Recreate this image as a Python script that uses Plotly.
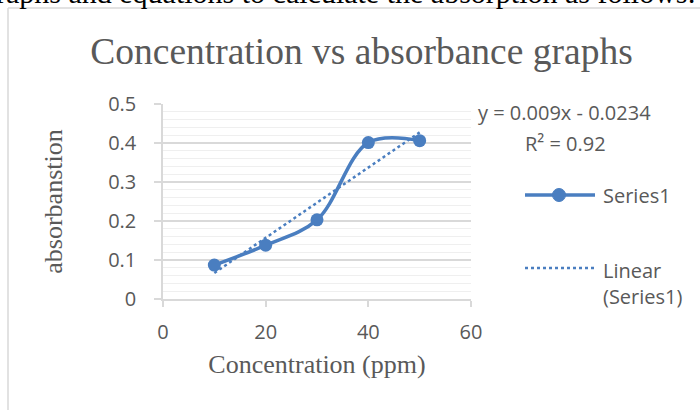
import numpy as np
import plotly.graph_objects as go

# ---- data ----
concentration = [10, 20, 30, 40, 50]
absorbance = [0.087, 0.138, 0.203, 0.401, 0.406]
x_ticks = [0, 20, 40, 60]
y_ticks = [0, 0.1, 0.2, 0.3, 0.4, 0.5]
series_name = "Series1"
trend_name = "Linear<br>(Series1)"
trend_equation = "y = 0.009x - 0.0234"
trend_r2 = "R² = 0.92"
chart_title = "Concentration vs absorbance graphs"
x_title = "Concentration (ppm)"
y_title = "absorbanstion"
page_text = "graphs and equations to calculate the absorption as follows:"

# linear trendline fitted to the series
slope, intercept = np.polyfit(concentration, absorbance, 1)
trend_x = [min(concentration), max(concentration)]
trend_y = [slope * v + intercept for v in trend_x]

# ---- layout geometry ----
W, H = 700, 410
L, R, T, B = 163, 471, 104, 299


def px(x):
    return (x - L) / (R - L)


def py(y):
    return (B - y) / (B - T)


BLUE = "#4A7EC0"
GREY_TXT = "#595959"
SANS = "Open Sans"
SERIF = "Liberation Serif"

fig = go.Figure()
fig.add_trace(go.Scatter(
    x=concentration, y=absorbance, name=series_name, mode="lines+markers",
    line=dict(color=BLUE, width=3.5, shape="spline", smoothing=1.0),
    marker=dict(color=BLUE, size=13), showlegend=False,
))
fig.add_trace(go.Scatter(
    x=trend_x, y=trend_y, name="Linear (Series1)", mode="lines",
    line=dict(color=BLUE, width=2.5, dash="dot"), showlegend=False,
))

shapes = [
    # chart frame (left and top edges)
    dict(type="line", xref="paper", yref="paper", x0=px(8), x1=px(8), y0=py(8), y1=py(420),
         line=dict(color="#d9d9d9", width=1.5)),
    dict(type="line", xref="paper", yref="paper", x0=px(8), x1=px(710), y0=py(8), y1=py(8),
         line=dict(color="#d9d9d9", width=1.5)),
    # legend symbols
    dict(type="line", xref="paper", yref="paper", x0=px(525), x1=px(595), y0=py(195), y1=py(195),
         line=dict(color=BLUE, width=3.5)),
    dict(type="circle", xref="paper", yref="paper", x0=px(552.5), x1=px(565.5), y0=py(188.5), y1=py(201.5),
         fillcolor=BLUE, line=dict(color=BLUE, width=1)),
    dict(type="line", xref="paper", yref="paper", x0=px(525), x1=px(595), y0=py(268), y1=py(268),
         line=dict(color=BLUE, width=2.5, dash="dot")),
]

annotations = [
    dict(text=page_text, xref="paper", yref="paper", x=px(698), y=py(-8), xanchor="right", yanchor="middle",
         showarrow=False, font=dict(family=SERIF, size=30, color="#000000")),
    dict(text=trend_equation, xref="paper", yref="paper", x=px(564), y=py(113), xanchor="center", yanchor="middle",
         showarrow=False, font=dict(family=SANS, size=20, color=GREY_TXT)),
    dict(text=trend_r2, xref="paper", yref="paper", x=px(565), y=py(143), xanchor="center", yanchor="middle",
         showarrow=False, font=dict(family=SANS, size=20, color=GREY_TXT)),
    dict(text=series_name, xref="paper", yref="paper", x=px(601), y=py(195), xanchor="left", yanchor="middle",
         showarrow=False, font=dict(family=SANS, size=20, color=GREY_TXT)),
    dict(text=trend_name, xref="paper", yref="paper", x=px(601), y=py(283), xanchor="left", yanchor="middle",
         align="left", showarrow=False, font=dict(family=SANS, size=20, color=GREY_TXT)),
]

fig.update_layout(
    width=W, height=H, autosize=False,
    margin=dict(l=L, r=W - R, t=T, b=H - B, pad=0),
    paper_bgcolor="white", plot_bgcolor="white",
    title=dict(text=chart_title, x=361.5 / W, xref="container", xanchor="center",
               y=1 - 51 / H, yref="container", yanchor="middle",
               font=dict(family=SERIF, size=37.5, color=GREY_TXT)),
    xaxis=dict(range=[0, 60], tickvals=x_ticks, showgrid=False, zeroline=False,
               showline=True, linecolor="#d9d9d9", linewidth=1.5,
               ticks="outside", ticklen=6, tickcolor="#d9d9d9", tickwidth=1.5,
               ticklabelstandoff=8,
               tickfont=dict(family=SANS, size=20, color=GREY_TXT),
               title=dict(text=x_title, standoff=11, font=dict(family=SERIF, size=26, color=GREY_TXT))),
    yaxis=dict(range=[0, 0.5], tickvals=y_ticks, showgrid=True, gridcolor="#d9d9d9", gridwidth=1.5,
               zeroline=False, showline=True, linecolor="#d9d9d9", linewidth=1.5,
               ticks="outside", ticklen=7, tickcolor="#d9d9d9", tickwidth=1.5,
               ticklabelstandoff=14,
               minor=dict(dtick=0.02, showgrid=True, gridcolor="#efefef", gridwidth=1.2),
               tickfont=dict(family=SANS, size=20, color=GREY_TXT),
               title=dict(text=y_title, standoff=38, font=dict(family=SERIF, size=26, color=GREY_TXT))),
    shapes=shapes, annotations=annotations, showlegend=False,
)

fig.write_html("out.html", config={"displayModeBar": False},
               post_script="document.body.style.margin='0px';")
